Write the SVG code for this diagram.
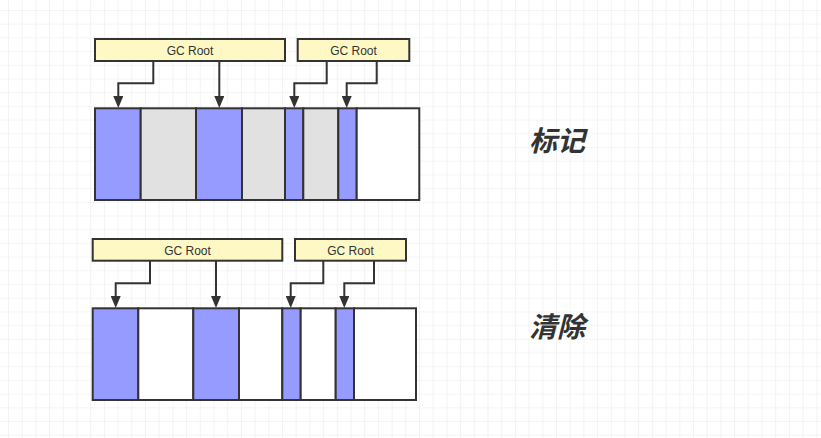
<svg xmlns="http://www.w3.org/2000/svg" width="821" height="438" viewBox="0 0 821 438">
<style>
.root{fill:#fdf8c4;stroke:#333;stroke-width:2}
.lbl{font-family:"Liberation Sans",Arial,sans-serif;font-size:12px;fill:#333;text-anchor:middle}
.b{fill:#969bff;stroke:#333;stroke-width:2}
.g{fill:#e1e1e1;stroke:#333;stroke-width:2}
.w{fill:#ffffff;stroke:#333;stroke-width:2}
.con{fill:none;stroke:#333;stroke-width:2}
.title{font-family:"Noto Sans CJK SC","Noto Sans",sans-serif;font-size:28px;font-weight:bold;font-style:italic;fill:#333;text-anchor:middle}
</style>
<defs>
<pattern id="grid" x="8" y="10" width="13.7" height="13.7" patternUnits="userSpaceOnUse">
<path d="M0 0H13.7M0 0V13.7" fill="none" stroke="#ececec" stroke-width="1.2"/>
</pattern>
<marker id="ah" viewBox="0 0 12 10" refX="0" refY="5" markerWidth="12" markerHeight="10" markerUnits="userSpaceOnUse" orient="auto">
<path d="M0 0L12 5L0 10Z" fill="#333"/>
</marker>
</defs>
<rect width="821" height="438" fill="#fff"/>
<rect width="821" height="438" fill="url(#grid)"/>

<g id="connectors">
<path class="con" d="M153.3 61V83.3H118.3V96" marker-end="url(#ah)"/>
<path class="con" d="M219.3 61V96" marker-end="url(#ah)"/>
<path class="con" d="M326.7 61V83.3H294.3V96" marker-end="url(#ah)"/>
<path class="con" d="M376.7 61V83.3H346.7V96" marker-end="url(#ah)"/>
<path class="con" d="M150 260.7V283.3H115.7V296" marker-end="url(#ah)"/>
<path class="con" d="M216 260.7V296" marker-end="url(#ah)"/>
<path class="con" d="M323.3 260.7V283.3H290.7V296" marker-end="url(#ah)"/>
<path class="con" d="M374 260.7V283.3H344.3V296" marker-end="url(#ah)"/>
</g>

<g id="root1"><rect class="root" x="95" y="39" width="190" height="22"/><text class="lbl" x="190" y="54.5">GC Root</text></g>
<g id="root2"><rect class="root" x="297.7" y="39" width="111.6" height="22"/><text class="lbl" x="353.5" y="54.5">GC Root</text></g>
<g id="root3"><rect class="root" x="92.7" y="239" width="189.6" height="21.7"/><text class="lbl" x="187.5" y="254.5">GC Root</text></g>
<g id="root4"><rect class="root" x="295" y="239" width="111" height="21.7"/><text class="lbl" x="350.5" y="254.5">GC Root</text></g>

<g id="heap-mark">
<rect class="b" x="95" y="108.3" width="45.7" height="91.7"/>
<rect class="g" x="140.7" y="108.3" width="55.3" height="91.7"/>
<rect class="b" x="196" y="108.3" width="46" height="91.7"/>
<rect class="g" x="242" y="108.3" width="43" height="91.7"/>
<rect class="b" x="285" y="108.3" width="18.3" height="91.7"/>
<rect class="g" x="303.3" y="108.3" width="35" height="91.7"/>
<rect class="b" x="338.3" y="108.3" width="18.4" height="91.7"/>
<rect class="w" x="356.7" y="108.3" width="62.6" height="91.7"/>
</g>

<g id="heap-sweep">
<rect class="b" x="92.7" y="308.3" width="45.6" height="91.7"/>
<rect class="w" x="138.3" y="308.3" width="55" height="91.7"/>
<rect class="b" x="193.3" y="308.3" width="45.7" height="91.7"/>
<rect class="w" x="239" y="308.3" width="43.3" height="91.7"/>
<rect class="b" x="282.3" y="308.3" width="18.4" height="91.7"/>
<rect class="w" x="300.7" y="308.3" width="35" height="91.7"/>
<rect class="b" x="335.7" y="308.3" width="18.3" height="91.7"/>
<rect class="w" x="354" y="308.3" width="62" height="91.7"/>
</g>

<g id="label-mark"><text class="title" x="557" y="151">标记</text></g>
<g id="label-sweep"><text class="title" x="557" y="337">清除</text></g>
</svg>
